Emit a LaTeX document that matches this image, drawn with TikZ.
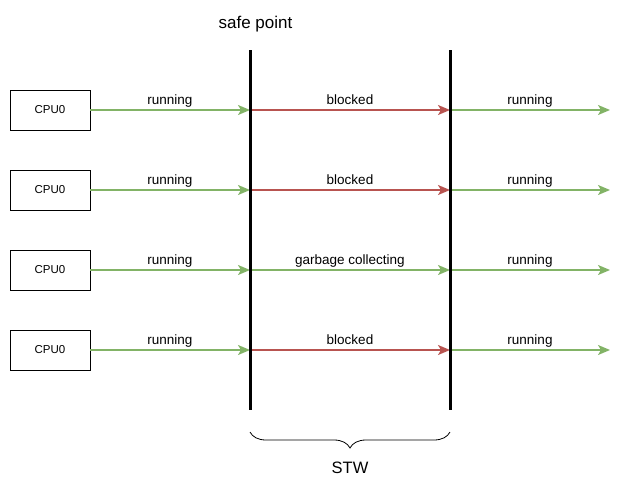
\documentclass[tikz,border=0pt]{standalone}
\usepackage{fontspec}
\setmainfont{Liberation Sans}
\usetikzlibrary{arrows.meta,positioning,decorations.pathreplacing}
\definecolor{runclr}{HTML}{82B366}
\definecolor{blockclr}{HTML}{B85450}

\begin{document}
\begin{tikzpicture}[x=1pt,y=-1pt,>={Stealth[length=12pt,width=10pt,inset=3pt]},
  every node/.style={font=\fontsize{13.5}{15}\selectfont},node distance=40pt,
  cpu/.style={draw,line width=0.9pt,minimum width=80pt,minimum height=40pt,inner sep=0pt,outer sep=0pt,font=\fontsize{11.5}{13}\selectfont},
  run/.style={->,draw=runclr,fill=runclr,line width=1.6pt},
  halt/.style={->,draw=blockclr,fill=blockclr,line width=1.6pt},
  lbl/.style={midway,above=1.5pt,inner sep=0pt,text height=10pt,text depth=3pt},
  barrier/.style={line width=3pt}]
  \useasboundingbox (0,0) rectangle (630,491);
  % the two safe points and the right end of the time lines
  \coordinate (sp1) at (250,50);
  \coordinate (sp1e) at (250,410);
  \coordinate (sp2) at (450,50);
  \coordinate (sp2e) at (450,410);
  \coordinate (tend) at (610,50);
  \node[cpu] (cpu1) at (50,110) {CPU0};
  \node[cpu,below=of cpu1] (cpu2) {CPU0};
  \node[cpu,below=of cpu2] (cpu3) {CPU0};
  \node[cpu,below=of cpu3] (cpu4) {CPU0};
  \draw[run] (cpu1.east) -- (cpu1.east -| sp1) node[lbl] {running};
  \draw[halt] (cpu1.east -| sp1) -- (cpu1.east -| sp2) node[lbl] {blocked};
  \draw[run] (cpu1.east -| sp2) -- (cpu1.east -| tend) node[lbl] {running};
  \draw[run] (cpu2.east) -- (cpu2.east -| sp1) node[lbl] {running};
  \draw[halt] (cpu2.east -| sp1) -- (cpu2.east -| sp2) node[lbl] {blocked};
  \draw[run] (cpu2.east -| sp2) -- (cpu2.east -| tend) node[lbl] {running};
  \draw[run] (cpu3.east) -- (cpu3.east -| sp1) node[lbl] {running};
  \draw[run] (cpu3.east -| sp1) -- (cpu3.east -| sp2) node[lbl] {garbage collecting};
  \draw[run] (cpu3.east -| sp2) -- (cpu3.east -| tend) node[lbl] {running};
  \draw[run] (cpu4.east) -- (cpu4.east -| sp1) node[lbl] {running};
  \draw[halt] (cpu4.east -| sp1) -- (cpu4.east -| sp2) node[lbl] {blocked};
  \draw[run] (cpu4.east -| sp2) -- (cpu4.east -| tend) node[lbl] {running};
  \draw[barrier] (sp1) -- (sp1e);
  \draw[barrier] (sp2) -- (sp2e);
  \node[font=\fontsize{17}{19}\selectfont] (safe) at (255.5,24) {safe point};
  % STW brace under the two barriers
  \coordinate (br1) at (250,432);
  \coordinate (br2) at (450,432);
  \draw[line width=0.8pt,decorate,decoration={brace,mirror,amplitude=16pt}] (br1) -- (br2);
  \node[font=\fontsize{16.5}{18}\selectfont] (stw) at (350,468) {STW};
\end{tikzpicture}
\end{document}
